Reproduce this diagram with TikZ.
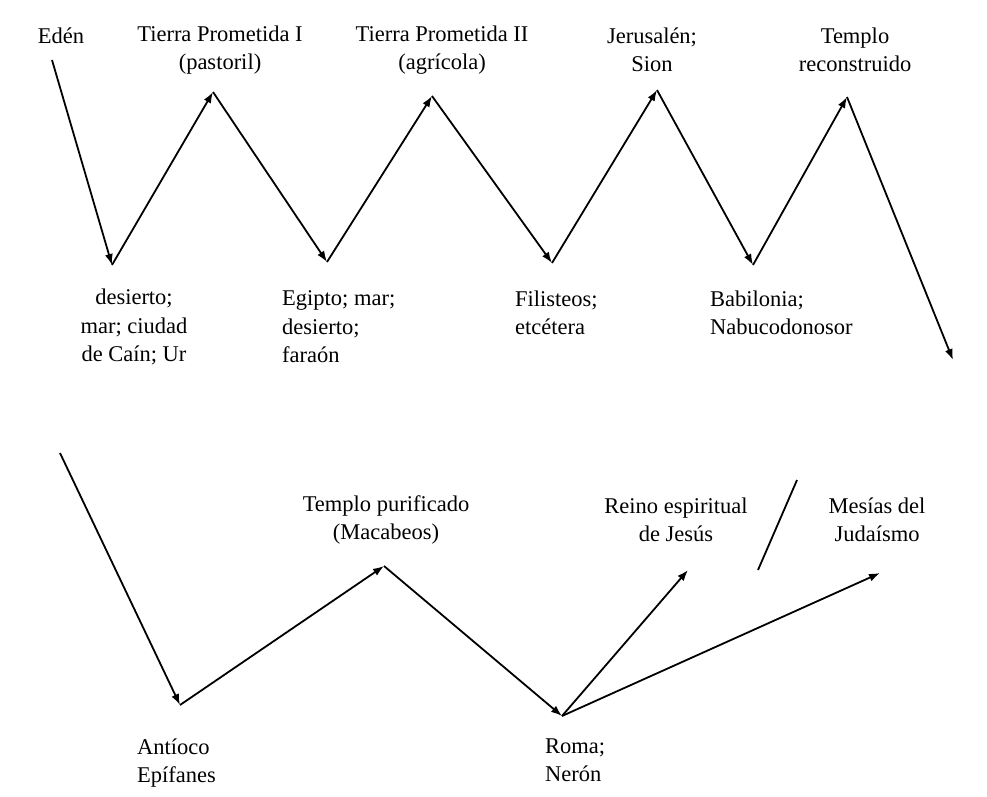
\documentclass[tikz,border=0pt]{standalone}
\usepackage{fontspec}
\setmainfont{Liberation Serif}
\usetikzlibrary{arrows.meta}
\begin{document}
\begin{tikzpicture}[x=1pt,y=-1pt,
  lbl/.style={inner sep=0pt, font=\fontsize{22.5}{28.5}\selectfont, align=center},
  lbll/.style={lbl, align=left, anchor=west},
  arr/.style={line width=1.8pt, -{Latex[length=11pt,width=8pt]}},
  ln/.style={line width=1.8pt}]
\useasboundingbox[fill=white] (0,0) rectangle (987,796);

% vertices
\coordinate (e0) at (52,60);
\coordinate (v1) at (112,265);
\coordinate (p1) at (213,92);
\coordinate (v2) at (327,262);
\coordinate (p2) at (432,96);
\coordinate (v3) at (552,263);
\coordinate (p3) at (657,90);
\coordinate (v4) at (753,265);
\coordinate (p4) at (847,97);
\coordinate (e1) at (953,360);
\coordinate (s0) at (60,453);
\coordinate (v5) at (180,705);
\coordinate (p5) at (384,566);
\coordinate (v6) at (562,716);
\coordinate (r1) at (688,570);
\coordinate (r2) at (880,573);
\coordinate (sl1) at (797,480);
\coordinate (sl2) at (758,570);

% labels
\node[lbl] (eden) at (61,36) {Edén};
\node[lbl] (tp1) at (220,50) {Tierra Prometida I\\(pastoril)};
\node[lbl] (tp2) at (442,50) {Tierra Prometida II\\(agrícola)};
\node[lbl] (jer) at (652,50) {Jerusalén;\\Sion};
\node[lbl] (tem) at (855,50) {Templo\\reconstruido};
\node[lbl] (des) at (134,327) {desierto;\\mar; ciudad\\de Caín; Ur};
\node[lbll] (egi) at (282,327) {Egipto; mar;\\desierto;\\faraón};
\node[lbll] (fil) at (515,313) {Filisteos;\\etcétera};
\node[lbll] (bab) at (710,313) {Babilonia;\\Nabucodonosor};
\node[lbl] (tpu) at (386,520) {Templo purificado\\(Macabeos)};
\node[lbl] (rei) at (676,520) {Reino espiritual\\de Jesús};
\node[lbl] (mes) at (877,520) {Mesías del\\Judaísmo};
\node[lbll] (ant) at (137,763) {Antíoco\\Epífanes};
\node[lbll] (rom) at (545,760) {Roma;\\Nerón};

% connectors
\draw[arr] (e0) -- (v1);
\draw[arr] (v1) -- (p1);
\draw[arr] (p1) -- (v2);
\draw[arr] (v2) -- (p2);
\draw[arr] (p2) -- (v3);
\draw[arr] (v3) -- (p3);
\draw[arr] (p3) -- (v4);
\draw[arr] (v4) -- (p4);
\draw[arr] (p4) -- (e1);
\draw[arr] (s0) -- (v5);
\draw[arr] (v5) -- (p5);
\draw[arr] (p5) -- (v6);
\draw[arr] (v6) -- (r1);
\draw[arr] (v6) -- (r2);
\draw[ln] (sl1) -- (sl2);
\end{tikzpicture}
\end{document}
